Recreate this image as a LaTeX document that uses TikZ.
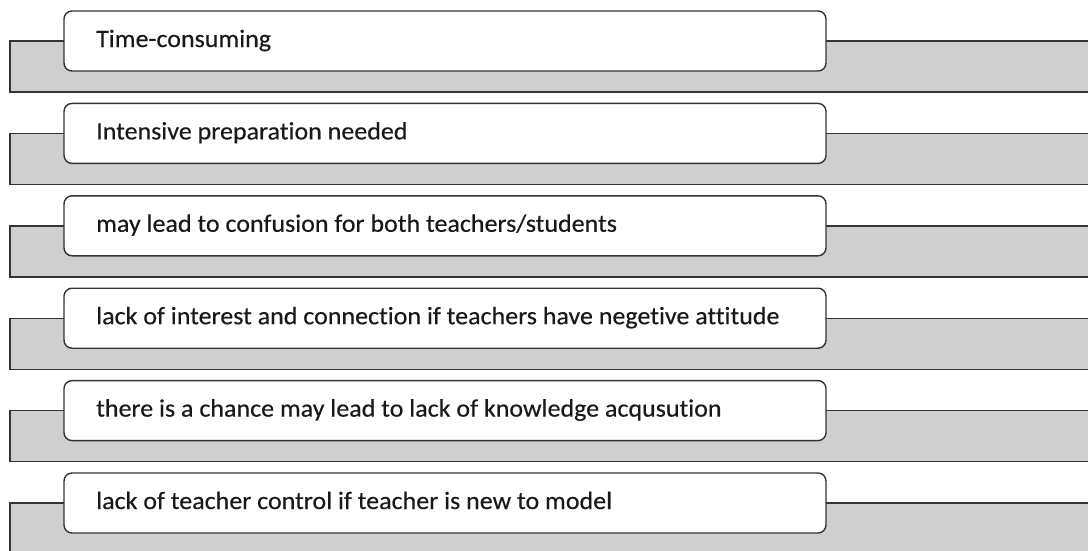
\documentclass[tikz,border=0pt]{standalone}
\usepackage{fontspec}
\setmainfont{Carlito}[Ligatures=NoCommon,FakeStretch=1.04,FakeBold=0.3]
\begin{document}
\begin{tikzpicture}[x=1pt,y=-1pt,
  band/.style={draw=black!80,line width=1.4pt,fill=black!19},
  itembox/.style={draw=black!80,line width=1.4pt,fill=white,rounded corners=8pt},
  itemtext/.style={anchor=base west,inner sep=0pt,text=black!90,font=\fontsize{25}{29}\selectfont}]
\useasboundingbox (0,0) rectangle (1088,550);
\clip (0,0) rectangle (1088,550);
\foreach \txt [count=\i from 0] in {
  Time-consuming,
  Intensive preparation needed,
  may lead to confusion for both teachers/students,
  lack of interest and connection if teachers have negetive attitude,
  there is a chance may lead to lack of knowledge acqusution,
  lack of teacher control if teacher is new to model}{
  \pgfmathsetmacro{\yt}{11+92.4*\i}
  % grey band behind each item
  \draw[band] (1100,\yt+30) -- (10,\yt+30) -- (10,\yt+81) -- (1100,\yt+81);
  % rounded item box on top of the band
  \draw[itembox] (64,\yt) rectangle (826,\yt+60);
  \node[itemtext] (label\i) at (96,\yt+36) {\txt};
}
\end{tikzpicture}
\end{document}
